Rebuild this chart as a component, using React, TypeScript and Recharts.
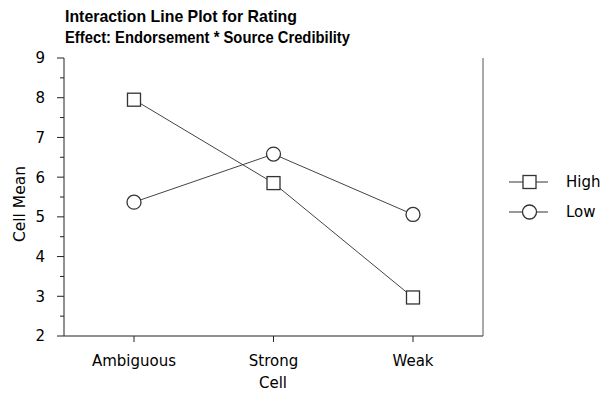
import React from 'react';
import { LineChart, Line, XAxis, YAxis } from 'recharts';

const categories = ['Ambiguous', 'Strong', 'Weak'];
const highValues = [7.95, 5.85, 2.97];
const lowValues = [5.37, 6.58, 5.06];
const yTicks = [2, 2.5, 3, 3.5, 4, 4.5, 5, 5.5, 6, 6.5, 7, 7.5, 8, 8.5, 9];
const seriesNames = ['High', 'Low'];
const titleLines = ['Interaction Line Plot for Rating', 'Effect: Endorsement * Source Credibility'];

const data = categories.map((c, i) => ({ cat: c, High: highValues[i], Low: lowValues[i] }));

const FONT = '"DejaVu Sans", Verdana, sans-serif';
const TITLE_FONT = '"Liberation Sans", Arial, sans-serif';
const INK = '#222';

const LeftTick = (props: any) => {
  const { x, y, payload } = props;
  const v = payload.value;
  const major = Number.isInteger(v);
  return (
    <g>
      <line x1={x - (major ? 7 : 4)} x2={x} y1={y} y2={y} stroke={INK} strokeWidth={1} />
      {major && (
        <text x={x - 19} y={y} dy="0.36em" textAnchor="end" fontFamily={FONT} fontSize={15} fill="#000">
          {v}
        </text>
      )}
    </g>
  );
};

const RightTick = (props: any) => {
  const { x, y, payload } = props;
  const major = Number.isInteger(payload.value);
  return <line x1={x} x2={x + (major ? 7 : 4)} y1={y} y2={y} stroke="#555" strokeWidth={1} />;
};

const TopTick = (props: any) => {
  const { x, y } = props;
  return <line x1={x} x2={x} y1={y - 6} y2={y} stroke={INK} strokeWidth={1} />;
};

const BottomTick = (props: any) => {
  const { x, y, payload } = props;
  return (
    <text x={x} y={y} dy="0.73em" textAnchor="middle" fontFamily={FONT} fontSize={15} fill="#000">
      {payload.value}
    </text>
  );
};

const YLabel = () => (
  <text x={0} y={0} transform="translate(25,204) rotate(-90)" textAnchor="middle" fontFamily={FONT} fontSize={15.5} fill="#000">
    Cell Mean
  </text>
);

const XLabel = () => (
  <text x={273} y={388} textAnchor="middle" fontFamily={FONT} fontSize={15} fill="#000">
    Cell
  </text>
);

const SquareDot = (props: any) => {
  const { cx, cy, key } = props;
  if (cx == null || cy == null) return <g key={key} />;
  return <rect key={key} x={cx - 6.5} y={cy - 6.5} width={13} height={13} fill="#fff" stroke="#333" strokeWidth={1.3} />;
};

const LegendBox = () => (
  <svg width={100} height={60} style={{ position: 'absolute', left: 505, top: 168 }}>
    <line x1={4} x2={43} y1={14} y2={14} stroke="#333" strokeWidth={1} />
    <rect x={18} y={7.5} width={13} height={13} fill="#fff" stroke="#333" strokeWidth={1.3} />
    <text x={61} y={14} dy="0.36em" fontFamily={FONT} fontSize={15} fill="#000">{seriesNames[0]}</text>
    <line x1={4} x2={43} y1={44} y2={44} stroke="#333" strokeWidth={1} />
    <circle cx={24.5} cy={44} r={7} fill="#fff" stroke="#333" strokeWidth={1.3} />
    <text x={61} y={44} dy="0.36em" fontFamily={FONT} fontSize={15} fill="#000">{seriesNames[1]}</text>
  </svg>
);

export default function App() {
  return (
    <div style={{ position: 'absolute', left: 0, top: 0, width: 604, height: 393, background: '#fff' }}>
      <svg width={604} height={60} style={{ position: 'absolute', left: 0, top: 0 }}>
        <text x={65} y={22} fontFamily={TITLE_FONT} fontWeight="bold" fontSize={17} fill="#000" textLength={232} lengthAdjust="spacingAndGlyphs">{titleLines[0]}</text>
        <text x={65} y={43} fontFamily={TITLE_FONT} fontWeight="bold" fontSize={17} fill="#000" textLength={285} lengthAdjust="spacingAndGlyphs">{titleLines[1]}</text>
      </svg>
      <div style={{ position: 'absolute', left: 0, top: 0 }}>
        <LineChart width={604} height={393} data={data} margin={{ top: 58, right: 111, bottom: 0, left: 4 }}>
          <XAxis
            dataKey="cat"
            xAxisId={0}
            height={57}
            padding={{ left: 70, right: 70 }}
            tickSize={6}
            tickMargin={13}
            tick={<BottomTick />}
            axisLine={{ stroke: INK }}
            tickLine={{ stroke: INK }}
            label={<XLabel />}
          />
          <XAxis
            dataKey="cat"
            xAxisId="top"
            orientation="top"
            height={0}
            padding={{ left: 70, right: 70 }}
            tickSize={0}
            tickMargin={0}
            tickLine={false}
            tick={<TopTick />}
            axisLine={{ stroke: INK }}
          />
          <YAxis
            yAxisId={0}
            width={60}
            domain={[2, 9]}
            ticks={yTicks}
            interval={0}
            tickSize={0}
            tickMargin={0}
            tickLine={false}
            tick={<LeftTick />}
            axisLine={{ stroke: INK }}
            label={<YLabel />}
          />
          <YAxis
            yAxisId="right"
            orientation="right"
            width={10}
            domain={[2, 9]}
            ticks={yTicks}
            interval={0}
            tickSize={0}
            tickMargin={0}
            tickLine={false}
            tick={<RightTick />}
            axisLine={{ stroke: '#555' }}
          />
          <Line dataKey="High" name={seriesNames[0]} stroke="#444" strokeWidth={1} dot={SquareDot} isAnimationActive={false} />
          <Line dataKey="Low" name={seriesNames[1]} stroke="#444" strokeWidth={1} dot={{ r: 7, fill: '#fff', stroke: '#333', strokeWidth: 1.3 }} isAnimationActive={false} />
        </LineChart>
      </div>
      <LegendBox />
    </div>
  );
}
